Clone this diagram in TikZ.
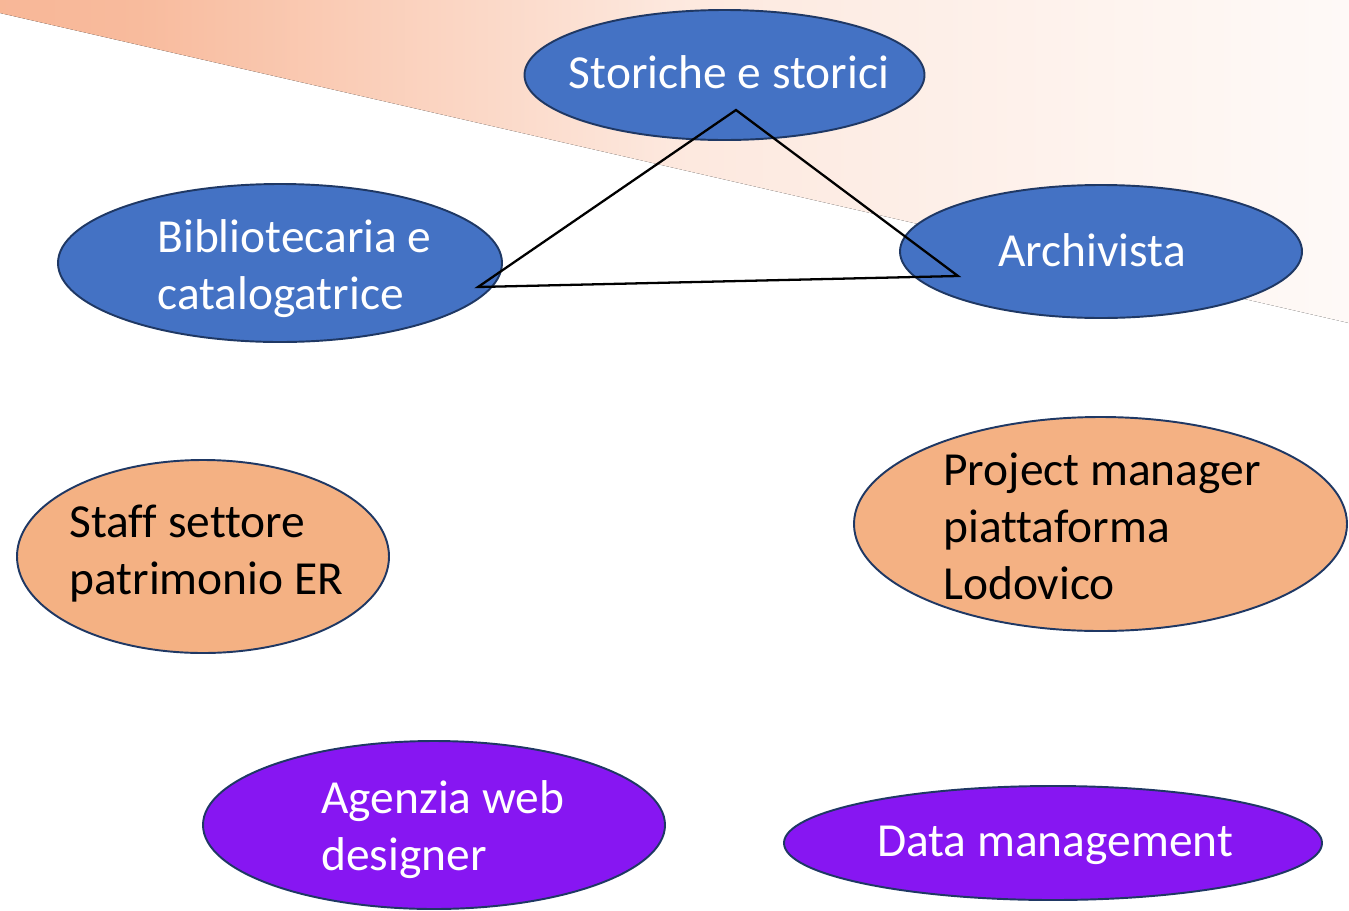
\documentclass[tikz,border=0pt]{standalone}
\usepackage{fontspec}
\setmainfont{Carlito}[Ligatures=NoCommon]
\usepackage{xcolor}
\usetikzlibrary{calc}
\usetikzlibrary{shapes.geometric}

\definecolor{roleblue}{HTML}{4472C4}
\definecolor{roleorange}{HTML}{F4B183}
\definecolor{rolepurple}{HTML}{8716F2}
\definecolor{roleedge}{HTML}{1F3864}
\definecolor{bandorange}{HTML}{F6A47C}

\pgfdeclarehorizontalshading{bandshade}{100bp}{color(0bp)=(bandorange); color(30bp)=(bandorange!75!white); color(50bp)=(bandorange!25!white); color(75bp)=(bandorange!6!white); color(100bp)=(bandorange!4!white)}

\tikzset{
    rolebubble/.style 2 args={ellipse, draw=roleedge, line width=1.1pt, inner sep=0pt,
        minimum width=#1*0.02cm, minimum height=#2*0.02cm},
    roletext/.style={font=\fontsize{27}{32.5}\selectfont, inner sep=0pt, align=left},
}

\begin{document}
\begin{tikzpicture}[x=0.02cm, y=-0.02cm]
        \useasboundingbox (0,0) rectangle (1349,910);
        % slide background band
        \fill[shading=bandshade] (0,0) -- (1349,0) -- (1349,323) -- (0,13) -- cycle;
        % blue roles
        \node[rolebubble={400}{130}, fill=roleblue] (storici) at (724.5,75) {};
        \node[roletext, text=white] (storicitxt) at (729,72) {Storiche e storici};
        \node[rolebubble={444}{158}, fill=roleblue] (biblio) at (280,263) {};
        \node[roletext, text=white, anchor=west] (bibliotxt) at (157,269) {Bibliotecaria e\\catalogatrice};
        \node[rolebubble={402}{133}, fill=roleblue] (archiv) at (1101,251.5) {};
        \node[roletext, text=white] (archivtxt) at (1092,250) {Archivista};
        % triangle between them
        \coordinate (tritop) at (736,110);
        \coordinate (trileft) at (478,287);
        \coordinate (triright) at (958,276);
        \draw[line width=1.3pt, line join=miter] (tritop) -- (trileft) -- (triright) -- cycle;
        % orange roles
        \node[rolebubble={372}{193}, fill=roleorange] (staff) at (203,556.5) {};
        \node[roletext, text=black, anchor=west] (stafftxt) at (69,554) {Staff settore\\patrimonio ER};
        \node[rolebubble={493}{214}, fill=roleorange] (pm) at (1100.5,524) {};
        \node[roletext, text=black, anchor=west] (pmtxt) at (943,526) {Project manager\\piattaforma\\Lodovico};
        % purple roles
        \node[rolebubble={462}{168}, fill=rolepurple] (agenzia) at (434,825) {};
        \node[roletext, text=white, anchor=west] (agenziatxt) at (321,830) {Agenzia web\\designer};
        \node[rolebubble={538}{114}, fill=rolepurple] (data) at (1053,843) {};
        \node[roletext, text=white] (datatxt) at (1055,845) {Data management};
\end{tikzpicture}
\end{document}
